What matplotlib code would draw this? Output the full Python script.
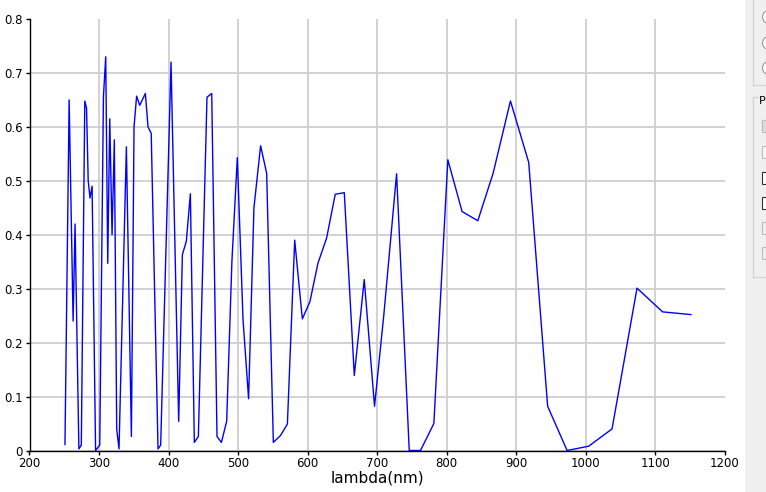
import matplotlib.pyplot as plt
from matplotlib.patches import Rectangle, Ellipse

# spectrum
wavelength = [251, 257, 262.7, 265.5, 271, 274.5, 279.5, 282, 284.4, 287, 290,
              295, 301, 306.3, 309.6, 312.5, 315.4, 318.7, 322, 325.4, 328.7,
              339.3, 346.5, 350.3, 354, 358.5, 366.6, 370.4, 375, 384.8, 388.6,
              403.5, 414.5, 419.8, 425.5, 431.3, 437, 442.8, 455.2, 462, 469.6,
              475.9, 483.5, 491, 498.8, 507, 515, 522.7, 532.3, 541, 550.6, 561,
              570.8, 581.3, 592.3, 603.2, 614.7, 627.2, 639.6, 652.6, 667, 681.3,
              696.1, 709.5, 727.8, 746, 762.2, 781.4, 801.5, 822, 844.6, 866.6,
              891.5, 917.8, 945, 973, 1004, 1037.6, 1073.5, 1110.3, 1151]
absorbance = [0.011, 0.65, 0.24, 0.42, 0.003, 0.01, 0.648, 0.635, 0.50, 0.468,
              0.49, 0.0, 0.01, 0.656, 0.73, 0.347, 0.615, 0.40, 0.576, 0.039,
              0.003, 0.563, 0.026, 0.60, 0.657, 0.64, 0.662, 0.60, 0.588, 0.003,
              0.01, 0.72, 0.054, 0.363, 0.388, 0.476, 0.015, 0.026, 0.655, 0.662,
              0.026, 0.015, 0.054, 0.35, 0.543, 0.243, 0.096, 0.45, 0.565, 0.514,
              0.015, 0.028, 0.049, 0.39, 0.244, 0.276, 0.347, 0.394, 0.475, 0.478,
              0.139, 0.317, 0.082, 0.252, 0.513, 0.0, 0.0, 0.05, 0.539, 0.443,
              0.426, 0.514, 0.648, 0.534, 0.082, 0.0, 0.008, 0.04, 0.301, 0.257,
              0.252]
x_ticks = [200, 300, 400, 500, 600, 700, 800, 900, 1000, 1100, 1200]
y_ticks = [0, 0.1, 0.2, 0.3, 0.4, 0.5, 0.6, 0.7, 0.8]
y_labels = ["0", "0.1", "0.2", "0.3", "0.4", "0.5", "0.6", "0.7", "0.8"]

W, H = 766, 492
fig = plt.figure(figsize=(W / 100, H / 100), dpi=100)
ax = fig.add_axes([29.5 / W, 1 - 450.5 / H, (725 - 29.5) / W, (450.5 - 19) / H])

ax.plot(wavelength, absorbance, color="#0000ff", lw=1.0)
ax.set_xlim(200, 1200)
ax.set_ylim(0, 0.8)
ax.set_xticks(x_ticks)
ax.set_yticks(y_ticks)
ax.set_yticklabels(y_labels)
ax.grid(True, color="#cfcfcf", lw=1.3)
ax.set_axisbelow(True)
# no grid line along the outer edges (1200 and 0.8)
ax.xaxis.get_gridlines()[-1].set_visible(False)
ax.yaxis.get_gridlines()[-1].set_visible(False)
for side in ("top", "right"):
    ax.spines[side].set_visible(False)
for side in ("left", "bottom"):
    ax.spines[side].set_linewidth(1.0)
ax.tick_params(length=3, width=1, labelsize=8.5, pad=2)
ax.set_xlabel("lambda(nm)", fontsize=11, labelpad=0)

# the cut-off control panel at the right edge of the screenshot
ft = fig.transFigure
fig.add_artist(Rectangle((745 / W, 0), (W - 745) / W, 1, transform=ft,
                         facecolor="#f0f0f0", edgecolor="none"))
box = dict(transform=ft, color="#d4d4d4", lw=1)
fig.add_artist(plt.Line2D([752.5 / W, 1], [1 - 85 / H] * 2, **box))
fig.add_artist(plt.Line2D([752.5 / W] * 2, [1, 1 - 85 / H], **box))
fig.add_artist(plt.Line2D([752.5 / W] * 2, [1 - 97 / H, 1 - 277 / H], **box))
fig.add_artist(plt.Line2D([752.5 / W, 1], [1 - 277 / H] * 2, **box))
fig.add_artist(plt.Line2D([752.5 / W, 758 / W], [1 - 97 / H] * 2, **box))
fig.text(759 / W, 1 - 101 / H, "P", fontsize=8, va="center", ha="left")
for yy in (17, 43, 68):
    fig.add_artist(Ellipse((769 / W, 1 - yy / H), 13 / W, 13 / H, transform=ft,
                           facecolor="white", edgecolor="#999999", lw=0.8))
for yy, ec, fc in ((126, "#bbbbbb", "#dddddd"), (152, "#bbbbbb", "#f8f8f8"),
                   (178, "#333333", "white"), (203, "#333333", "white"),
                   (228, "#bbbbbb", "#f0f0f0"), (253, "#bbbbbb", "#f0f0f0")):
    fig.add_artist(Rectangle((762 / W, 1 - (yy + 6) / H), 8 / W, 12 / H,
                             transform=ft, facecolor=fc, edgecolor=ec, lw=0.8))

fig.savefig("out.png", dpi=100)
